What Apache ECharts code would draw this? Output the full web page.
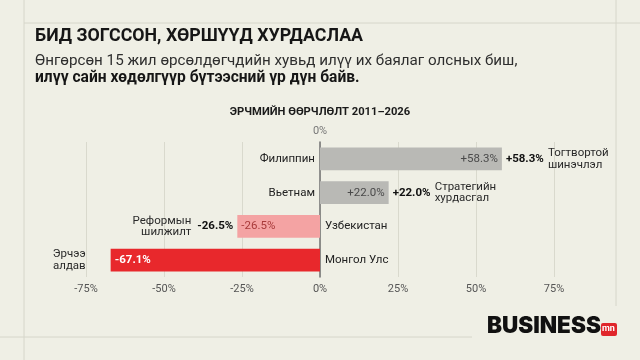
<!DOCTYPE html>
<html>
<head>
<meta charset="utf-8">
<script src="https://cdn.jsdelivr.net/npm/echarts@6/dist/echarts.min.js"></script>
<style>
  html, body { margin: 0; padding: 0; background: #efefe5; }
  #chart { width: 640px; height: 360px; }
</style>
</head>
<body>
<div id="chart"></div>
<script>
// өгөгдөл
var countries = ['Филиппин', 'Вьетнам', 'Узбекистан', 'Монгол Улс'];
var changes = [58.3, 22.0, -26.5, -67.1];
var notes = ['Тогтвортой\nшинэчлэл', 'Стратегийн\nхурдасгал', 'Реформын\nшилжилт', 'Эрчээ\nалдав'];
var showOuter = [true, true, true, false];
var barColors = ['#b9b9b5', '#b9b9b5', '#f4a3a3', '#e8282c'];
var innerColors = ['#4a4a4a', '#4a4a4a', '#a83a3a', '#ffffff'];
var xTicks = [-75, -50, -25, 0, 25, 50, 75];

var FONT = 'Roboto, Inter, "Noto Sans", sans-serif';

function fmt(v) {
  return (v > 0 ? '+' : '') + v.toFixed(1) + '%';
}

var myChart = echarts.init(document.getElementById('chart'));

// үндсэн баганууд
var mainBars = changes.map(function (v, i) {
  return {
    value: v,
    itemStyle: { color: barColors[i] },
    label: {
      show: true,
      position: v > 0 ? 'insideRight' : 'insideLeft',
      distance: 4,
      color: innerColors[i],
      fontWeight: i === 3 ? 'bold' : 'normal',
      formatter: fmt(v)
    }
  };
});

// баарын гаднах тод утга
var valueBars = changes.map(function (v, i) {
  return {
    value: v,
    label: {
      show: showOuter[i],
      position: v > 0 ? 'right' : 'left',
      distance: 4,
      formatter: fmt(v)
    }
  };
});

// тайлбар
var noteBars = changes.map(function (v, i) {
  return {
    value: v,
    label: {
      show: true,
      position: v > 0 ? 'right' : 'left',
      align: v > 0 ? 'left' : 'right',
      distance: showOuter[i] ? 46 : 25,
      formatter: notes[i]
    }
  };
});

// улсын нэр
var nameBars = changes.map(function (v, i) {
  return {
    value: v,
    label: {
      show: true,
      position: v > 0 ? 'left' : 'right',
      distance: 5,
      formatter: countries[i]
    }
  };
});

var option = {
  backgroundColor: '#efefe5',
  textStyle: { fontFamily: FONT },
  title: [
    {
      text: 'БИД ЗОГССОН, ХӨРШҮҮД ХУРДАСЛАА',
      left: 30, top: 23,
      textStyle: { fontSize: 17.8, fontWeight: 'bold', color: '#161616', fontFamily: FONT }
    },
    {
      text: '{a|Өнгөрсөн 15 жил өрсөлдөгчдийн хувьд илүү их баялаг олсных биш,}\n{b|илүү сайн хөдөлгүүр бүтээсний үр дүн байв.}',
      left: 30, top: 48,
      textStyle: {
        fontFamily: FONT,
        rich: {
          a: { fontSize: 15.2, color: '#2e2e2e', fontWeight: 'normal', lineHeight: 17, fontFamily: FONT },
          b: { fontSize: 15.6, color: '#161616', fontWeight: 'bold', lineHeight: 17, fontFamily: FONT }
        }
      }
    },
    {
      text: 'ЭРЧМИЙН ӨӨРЧЛӨЛТ 2011–2026',
      left: 'center', top: 102,
      textStyle: { fontSize: 11.2, fontWeight: 'bold', color: '#1a1a1a', fontFamily: FONT }
    }
  ],
  grid: { left: 86, right: 86, top: 142, bottom: 83 },
  xAxis: [
    {
      type: 'value',
      min: -75, max: 75, interval: 25,
      axisLine: { show: false },
      axisTick: { show: false },
      splitLine: { show: true, lineStyle: { color: '#d9d9cd', width: 1 } },
      axisLabel: {
        margin: 7, fontSize: 11, color: '#555',
        formatter: function (v) { return xTicks.indexOf(v) >= 0 ? v + '%' : ''; }
      }
    },
    {
      type: 'value', position: 'top',
      min: -75, max: 75, interval: 25,
      axisLine: { show: false },
      axisTick: { show: false },
      splitLine: { show: false },
      axisLabel: {
        margin: 5, fontSize: 11, color: '#777',
        formatter: function (v) { return v === 0 ? '0%' : ''; }
      }
    }
  ],
  yAxis: {
    type: 'category',
    data: countries,
    inverse: true,
    axisLine: { lineStyle: { color: '#707070', width: 1.5 } },
    axisTick: { show: false },
    axisLabel: { show: false }
  },
  series: [
    {
      type: 'bar', name: 'bars', barWidth: '68%', barGap: '-100%',
      data: mainBars,
      label: { fontSize: 11.5, fontFamily: FONT }
    },
    {
      type: 'bar', name: 'values', barWidth: '68%', barGap: '-100%',
      itemStyle: { color: 'rgba(0,0,0,0)' },
      data: valueBars,
      label: { fontSize: 11.5, fontWeight: 'bold', color: '#111', fontFamily: FONT },
      silent: true
    },
    {
      type: 'bar', name: 'notes', barWidth: '68%', barGap: '-100%',
      itemStyle: { color: 'rgba(0,0,0,0)' },
      data: noteBars,
      label: { fontSize: 11.5, color: '#2a2a2a', lineHeight: 11.5, fontFamily: FONT },
      silent: true
    },
    {
      type: 'bar', name: 'names', barWidth: '68%', barGap: '-100%',
      itemStyle: { color: 'rgba(0,0,0,0)' },
      data: nameBars,
      label: { fontSize: 11.5, color: '#222', fontFamily: FONT },
      silent: true
    }
  ],
  graphic: [
    { type: 'line', shape: { x1: 24, y1: 23, x2: 640, y2: 23 }, style: { stroke: '#d6d6ca', lineWidth: 1 }, silent: true },
    { type: 'line', shape: { x1: 24, y1: 0, x2: 24, y2: 360 }, style: { stroke: '#d6d6ca', lineWidth: 1 }, silent: true },
    { type: 'line', shape: { x1: 616, y1: 0, x2: 616, y2: 306 }, style: { stroke: '#d6d6ca', lineWidth: 1 }, silent: true },
    { type: 'line', shape: { x1: 0, y1: 337, x2: 472, y2: 337 }, style: { stroke: '#d6d6ca', lineWidth: 1 }, silent: true },
    {
      type: 'text', left: 487, top: 315,
      style: { text: 'BUSINESS', font: '900 22.5px Inter, sans-serif', fill: '#111' }
    },
    {
      type: 'rect', shape: { x: 601, y: 323, width: 16, height: 13, r: 2 },
      style: { fill: '#e0262b' }
    },
    {
      type: 'text', left: 602, top: 324,
      style: { text: 'mn', font: 'bold 9px ' + FONT, fill: '#fff' }
    }
  ]
};

myChart.setOption(option);
</script>
</body>
</html>
